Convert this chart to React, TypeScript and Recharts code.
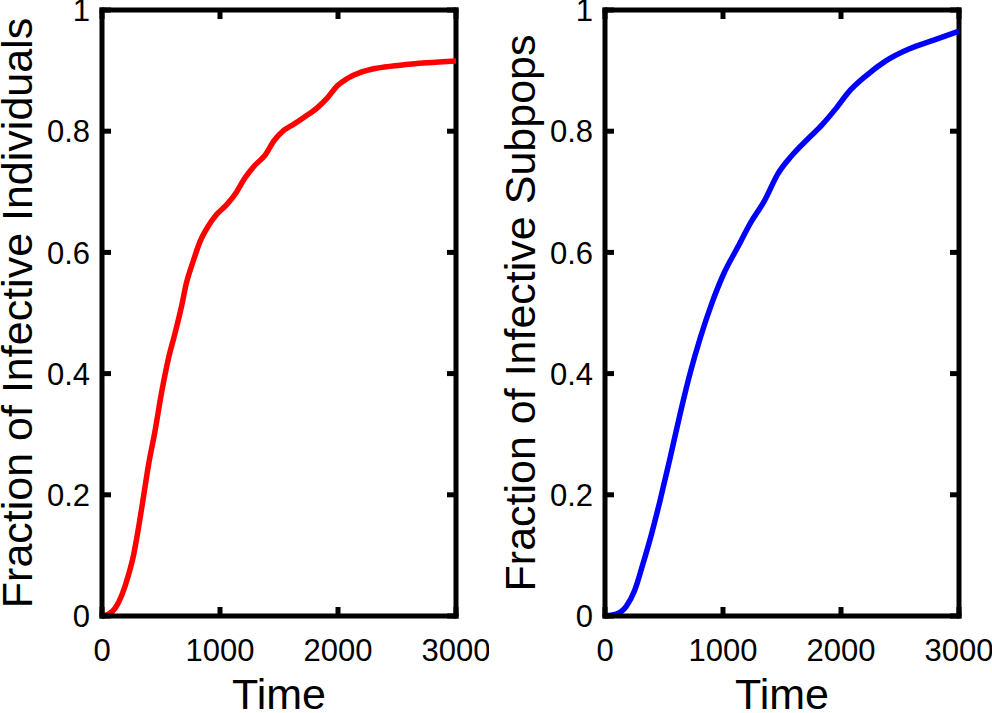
import React from "react";
import { LineChart, Line, XAxis, YAxis, Label, ReferenceLine } from "recharts";

// red curve: fraction of infective individuals
const timeRed = [0, 56, 112, 169, 225, 267, 309, 351, 393, 449, 506, 562, 618, 674, 716, 772, 829, 899, 969, 1053, 1138, 1208, 1292, 1376, 1461, 1545, 1629, 1713, 1826, 1910, 1994, 2079, 2191, 2331, 2528, 2753, 3000];
const fracIndividuals = [0, 0.003, 0.013, 0.035, 0.068, 0.1, 0.145, 0.196, 0.248, 0.305, 0.37, 0.424, 0.466, 0.511, 0.55, 0.585, 0.617, 0.643, 0.662, 0.678, 0.699, 0.722, 0.743, 0.759, 0.785, 0.802, 0.812, 0.823, 0.839, 0.855, 0.875, 0.887, 0.897, 0.904, 0.909, 0.913, 0.916];

// blue curve: fraction of infective subpops
const timeBlue = [0, 94, 180, 251, 323, 394, 466, 551, 637, 723, 809, 909, 1009, 1123, 1237, 1351, 1466, 1580, 1723, 1837, 1951, 2066, 2209, 2380, 2580, 2780, 3000];
const fracSubpops = [0, 0.003, 0.016, 0.042, 0.087, 0.135, 0.19, 0.26, 0.334, 0.402, 0.46, 0.518, 0.566, 0.608, 0.65, 0.685, 0.73, 0.759, 0.788, 0.81, 0.836, 0.865, 0.891, 0.916, 0.936, 0.95, 0.965];

const xTicks = [0, 1000, 2000, 3000];
const yTicks = [0, 0.2, 0.4, 0.6, 0.8, 1];

const FONT = "'Liberation Sans', Arial, Helvetica, sans-serif";
const TICK_FS = 31;
const TITLE_FS = 43;
const YM = 12; // gap between y labels and frame
const XM = 23; // gap between x labels and frame
const TL = 9; // inner tick length

// plot box inside each panel
const W = 489;
const H = 713;
const PL = 102;
const PR = 456;
const PT = 10;
const PB = 616;

const LeftTick = (p: any) => (
  <g>
    <line x1={p.x + YM} x2={p.x + YM + TL} y1={p.y} y2={p.y} stroke="#000" strokeWidth={5} />
    <line x1={PR} x2={PR - TL} y1={p.y} y2={p.y} stroke="#000" strokeWidth={5} />
    <text x={p.x} y={p.y} dy="0.36em" textAnchor="end" fontSize={TICK_FS} fontFamily={FONT} fill="#000">
      {String(p.payload.value)}
    </text>
  </g>
);

const BottomTick = (p: any) => (
  <g>
    <line x1={p.x} x2={p.x} y1={p.y - XM} y2={p.y - XM - TL} stroke="#000" strokeWidth={5} />
    <line x1={p.x} x2={p.x} y1={PT} y2={PT + TL} stroke="#000" strokeWidth={5} />
    <text x={p.x} y={p.y} dy="0.71em" textAnchor="middle" fontSize={TICK_FS} fontFamily={FONT} fill="#000">
      {String(p.payload.value)}
    </text>
  </g>
);

const frame = { stroke: "#000", strokeWidth: 5, strokeLinecap: "square" as const };

function Panel({ times, values, color, ylabel }: { times: number[]; values: number[]; color: string; ylabel: string }) {
  const data = times.map((t, i) => ({ t, v: values[i] }));
  return (
    <LineChart width={W} height={H} data={data} margin={{ top: PT, right: W - PR, bottom: 0, left: 0 }}>
      <XAxis
        dataKey="t"
        type="number"
        domain={[0, 3000]}
        ticks={xTicks}
        interval={0}
        height={H - PB}
        tickSize={0}
        tickMargin={XM}
        tick={BottomTick}
        axisLine={frame}
        tickLine={false}
      >
        <Label
          content={() => (
            <text x={(PL + PR) / 2} y={709} textAnchor="middle" fontSize={TITLE_FS} fontFamily={FONT} fill="#000">
              Time
            </text>
          )}
        />
      </XAxis>
      <YAxis
        type="number"
        domain={[0, 1]}
        ticks={yTicks}
        interval={0}
        width={PL}
        tickSize={0}
        tickMargin={YM}
        tick={LeftTick}
        axisLine={frame}
        tickLine={false}
      >
        <Label
          content={() => (
            <text
              x={32}
              y={313}
              transform="rotate(-90, 32, 313)"
              textAnchor="middle"
              fontSize={TITLE_FS}
              fontFamily={FONT}
              fill="#000"
            >
              {ylabel}
            </text>
          )}
        />
      </YAxis>
      <ReferenceLine y={1} stroke="#000" strokeWidth={5} strokeLinecap="square" />
      <ReferenceLine x={3000} stroke="#000" strokeWidth={5} strokeLinecap="square" />
      <Line
        dataKey="v"
        type="monotone"
        stroke={color}
        strokeWidth={5.5}
        dot={false}
        isAnimationActive={false}
      />
    </LineChart>
  );
}

export default function App() {
  return (
    <div style={{ position: "absolute", left: 0, top: 0, width: 992, height: 713, background: "#fff" }}>
      <div style={{ position: "absolute", left: 0, top: 0 }}>
        <Panel times={timeRed} values={fracIndividuals} color="#ff0000" ylabel="Fraction of Infective Individuals" />
      </div>
      <div style={{ position: "absolute", left: 503, top: 0 }}>
        <Panel times={timeBlue} values={fracSubpops} color="#0000ff" ylabel="Fraction of Infective Subpops" />
      </div>
    </div>
  );
}
